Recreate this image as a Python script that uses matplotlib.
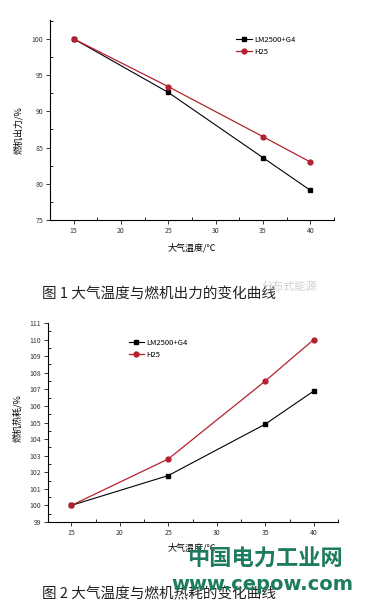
import matplotlib
matplotlib.use("Agg")
import matplotlib.pyplot as plt
from matplotlib.ticker import MultipleLocator

plt.rcParams['font.family'] = ['Noto Sans CJK SC', 'DejaVu Sans']

# ---- dados ----
temps = [15, 25, 35, 40]
series_names = ["LM2500+G4", "H25"]
power_lm = [100, 92.6, 83.6, 79.1]
power_h25 = [100, 93.4, 86.5, 83.0]
heat_lm = [100, 101.8, 104.9, 106.9]
heat_h25 = [100, 102.8, 107.5, 110.0]

xlabel = "大气温度/℃"
ylabel1 = "燃机出力/%"
ylabel2 = "燃机热耗/%"
caption1 = "图 1 大气温度与燃机出力的变化曲线"
caption2 = "图 2 大气温度与燃机热耗的变化曲线"

RED = "#b3222e"
W, H = 366, 614

fig = plt.figure(figsize=(W / 100, H / 100), dpi=100)
fig.patch.set_facecolor("white")


def px_axes(left, top, right, bottom):
    return fig.add_axes([left / W, 1 - bottom / H, (right - left) / W, (bottom - top) / H])


def style(ax):
    ax.spines["top"].set_visible(False)
    ax.spines["right"].set_visible(False)
    for s in ("left", "bottom"):
        ax.spines[s].set_linewidth(0.8)
    ax.tick_params(which="major", direction="out", length=3, width=0.7, labelsize=5, colors="#333333", pad=2)
    ax.tick_params(which="minor", direction="in", length=2, width=0.6)
    ax.xaxis.set_major_locator(MultipleLocator(5))
    ax.xaxis.set_minor_locator(MultipleLocator(2.5))


# ---- gráfico 1 ----
ax1 = px_axes(50, 20, 334, 220)
ax1.plot(temps, power_lm, color="black", marker="s", ms=3.5, lw=0.8, label=series_names[0])
ax1.plot(temps, power_h25, color=RED, marker="o", ms=3.5, lw=0.9, label=series_names[1])
ax1.set_xlim(12.5, 42.5)
ax1.set_ylim(75, 102.6)
ax1.yaxis.set_major_locator(MultipleLocator(5))
ax1.yaxis.set_minor_locator(MultipleLocator(2.5))
style(ax1)
ax1.set_xlabel(xlabel, fontsize=6.5)
ax1.set_ylabel(ylabel1, fontsize=6.5)
ax1.xaxis.set_label_coords(0.5, -0.115)
ax1.yaxis.set_label_coords(-0.095, 0.45)
ax1.legend(loc="upper left", bbox_to_anchor=(0.64, 0.94), frameon=False, fontsize=5.5,
           handlelength=2.2, handletextpad=0.3, labelspacing=0.5, borderpad=0, numpoints=1)

fig.text(42 / W, 1 - 294 / H, caption1, fontsize=10.5, va="center", ha="left", color="#222222")
fig.text(262 / W, 1 - 287 / H, "分布式能源", fontsize=8, va="center", ha="left", color="#d0d0d0")

# ---- gráfico 2 ----
ax2 = px_axes(48, 323, 338, 522)
ax2.plot(temps, heat_lm, color="black", marker="s", ms=3.5, lw=0.8, label=series_names[0])
ax2.plot(temps, heat_h25, color=RED, marker="o", ms=3.5, lw=0.9, label=series_names[1])
ax2.set_xlim(12.6, 42.5)
ax2.set_ylim(99, 111)
ax2.yaxis.set_major_locator(MultipleLocator(1))
ax2.yaxis.set_minor_locator(MultipleLocator(0.5))
style(ax2)
ax2.set_xlabel(xlabel, fontsize=6.5)
ax2.set_ylabel(ylabel2, fontsize=6.5)
ax2.xaxis.set_label_coords(0.497, -0.105)
ax2.yaxis.set_label_coords(-0.09, 0.52)
ax2.legend(loc="upper left", bbox_to_anchor=(0.265, 0.94), frameon=False, fontsize=5.5,
           handlelength=2.0, handletextpad=0.3, labelspacing=0.5, borderpad=0, numpoints=1)

fig.text(42 / W, 1 - 594 / H, caption2, fontsize=10.5, va="center", ha="left", color="#222222")

# marca d'água verde
GREEN = "#1d7b5f"
fig.text(265 / W, 1 - 559 / H, "中国电力工业网", fontsize=16, fontweight="bold", va="center", ha="center", color=GREEN)
fig.text(262 / W, 1 - 585 / H, "www.cepow.com", fontsize=14, fontweight="bold", va="center", ha="center",
         color=GREEN, family="DejaVu Sans")

fig.savefig("out.png", dpi=100)
